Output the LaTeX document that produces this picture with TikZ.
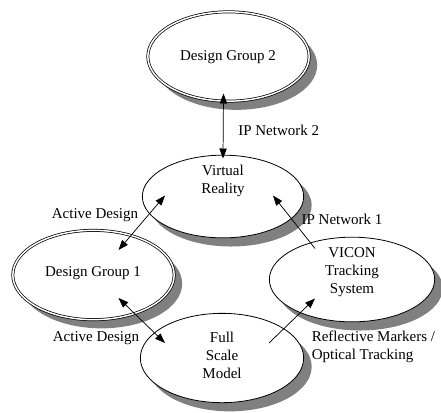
\documentclass[tikz,border=0pt]{standalone}
\usepackage{fontspec}
\setmainfont{Liberation Serif}
\usetikzlibrary{shapes.geometric,arrows.meta}

\begin{document}
\begin{tikzpicture}[x=0.75pt,y=-0.75pt,
  bubble/.style={ellipse,draw,line width=0.6pt,fill=white,inner sep=0pt,
    preaction={draw=none,fill=black!50,transform canvas={xshift=6pt,yshift=-6.5pt}}},
  dblbubble/.style={bubble,double,line width=0.55pt,double distance=1.1pt},
  txt/.style={align=center,inner sep=0pt,font=\fontsize{11.25}{13.5}\selectfont},
  lbl/.style={txt,align=left},
  both/.style={{Triangle[length=7.5pt,width=5.5pt]}-{Triangle[length=7.5pt,width=5.5pt]},line width=0.55pt},
  one/.style={-{Triangle[length=7.5pt,width=5.5pt]},line width=0.55pt}]
\useasboundingbox (0,0) rectangle (441,412);

%Shape: Ellipses
\node[dblbubble,minimum width=121pt,minimum height=67pt] (dgtwo) at (228.5,56.5) {};
\node[bubble,minimum width=121pt,minimum height=62pt] (vr) at (223,196.5) {};
\node[dblbubble,minimum width=121pt,minimum height=67pt] (dgone) at (93.5,275) {};
\node[bubble,minimum width=124pt,minimum height=63.5pt] (vicon) at (352,279.5) {};
\node[bubble,minimum width=122.5pt,minimum height=67pt] (fsm) at (222,358) {};

% Text Node
\node[txt] (dgtwotext) at (228,57) {Design Group 2};
\node[txt] (vrtext) at (223,181) {Virtual\\Reality};
\node[txt] (dgonetext) at (93,273) {Design Group 1};
\node[txt] (vicontext) at (352,272.5) {VICON\\Tracking\\System};
\node[txt] (fsmtext) at (222,355) {Full\\Scale\\Model};

%Straight Lines
\draw[both] ([shift={(-5,37)}]dgtwo.center) -- ([shift={(0,-38)}]vr.center);
\draw[both] ([shift={(25,-25)}]dgone.center) -- ([shift={(-58,-1)}]vr.center);
\draw[one] ([shift={(-37,-31)}]vicon.center) -- ([shift={(50,-1)}]vr.center);
\draw[both] ([shift={(25,23)}]dgone.center) -- ([shift={(-57,-15)}]fsm.center);
\draw[one] ([shift={(47,-15)}]fsm.center) -- ([shift={(-37,19)}]vicon.center);

% Text Node
\node[lbl,anchor=west] (ipnettwo) at (238,130) {IP Network 2};
\node[lbl] (activeup) at (95,215) {Active Design};
\node[lbl] (ipnetone) at (342,219) {IP Network 1};
\node[lbl] (activelow) at (96,338) {Active Design};
\node[lbl,anchor=west] (markers) at (311.5,347) {Reflective Markers /\\Optical Tracking};

\end{tikzpicture}
\end{document}
